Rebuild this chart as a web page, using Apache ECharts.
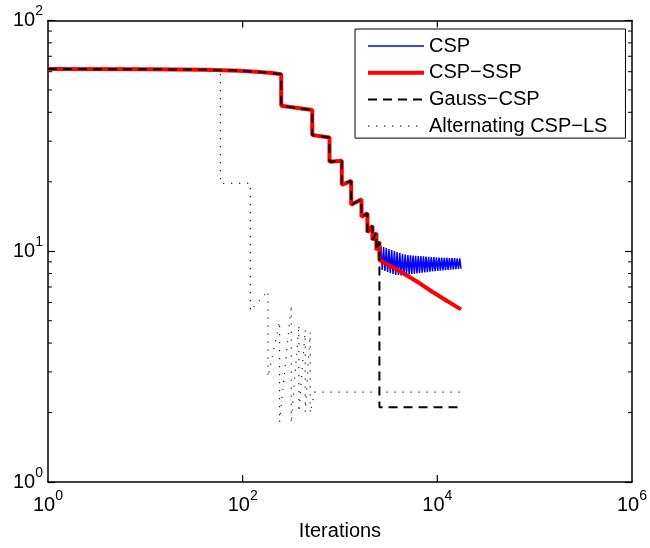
<!DOCTYPE html>
<html><head><meta charset="utf-8">
<script src="https://cdn.jsdelivr.net/npm/echarts@6/dist/echarts.min.js"></script>
<style>html,body{margin:0;padding:0;background:#fff}#c{width:650px;height:548px}</style>
</head><body><div id="c"></div>
<script>
// ---- data ----
const seriesNames = ['CSP', 'CSP\u2212SSP', 'Gauss\u2212CSP', 'Alternating CSP\u2212LS'];
const xMajorTicks = [100, 10000];
const yMinorTicks = [2,3,4,5,6,7,8,9,20,30,40,50,60,70,80,90];

// shared staircase of CSP / CSP-SSP / Gauss-CSP
const mainX = [1, 10, 40, 93, 149, 200, 249, 249, 519, 519, 780, 780, 1043, 1043, 1303, 1303, 1662, 1662, 1914, 1914, 2154, 2154, 2367, 2367, 2541, 2541];
const mainY = [61.6, 61.5, 61.2, 60.6, 59.8, 59.2, 58.5, 42.7, 40.9, 31.9, 31.1, 24.4, 24.7, 19.4, 20.2, 15.9, 16.8, 14.1, 14.6, 12.1, 12.9, 11.2, 12.0, 10.1, 11.0, 9.16];

// CSP tail (oscillating)
const cspX = [2634, 2715, 2807, 2894, 2991, 3085, 3188, 3288, 3399, 3505, 3622, 3735, 3861, 3981, 4115, 4244, 4386, 4523, 4674, 4821, 4983, 5137,
  5298, 5463, 5634, 5808, 5989, 6176, 6370, 6567, 6773, 6984, 7201, 7427, 7657, 7896, 8143, 8396, 8658, 8929, 9207, 9493, 9790, 10095,
  10409, 10735, 11069, 11414, 11770, 12137, 12515, 12906, 13309, 13723, 14152, 14593, 15048, 15517, 16000, 16499, 17013, 17502];
const cspY = [10.54, 8.30, 10.43, 8.21, 10.33, 8.13, 10.23, 8.05, 10.13, 7.97, 10.03, 7.89, 9.93, 7.89, 9.83, 7.85, 9.73, 7.85, 9.68, 7.89, 9.63, 7.93,
  9.60, 7.97, 9.58, 8.00, 9.56, 8.02, 9.54, 8.05, 9.52, 8.07, 9.50, 8.10, 9.48, 8.12, 9.46, 8.15, 9.44, 8.17, 9.43, 8.20, 9.41, 8.22,
  9.40, 8.24, 9.38, 8.26, 9.37, 8.28, 9.36, 8.30, 9.35, 8.32, 9.34, 8.34, 9.33, 8.36, 9.32, 8.38, 9.31, 8.40];

// CSP-SSP tail
const sspX = [3455, 4775, 6535, 8950, 12370, 17500];
const sspY = [8.55, 7.89, 7.28, 6.66, 6.12, 5.6];

// Gauss-CSP tail
const gaussX = [2541, 17500];
const gaussY = [2.107, 2.107];

// Alternating CSP-LS
const altX = [1, 59.1, 59.1, 120, 120, 181.7, 181.7, 239.6, 239.6, 315.9, 315.9, 377.9, 377.9, 439.6, 439.6, 494.9, 494.9, 547.6, 18920];
const altY = [61.6, 60.8, 19.7, 19.7, 5.51, 6.72, 2.85, 4.94, 1.82, 5.85, 1.80, 4.79, 2.01, 4.56, 2.01, 4.47, 1.99, 2.45, 2.45];

// ---- chart ----
const pair = (xs, ys) => xs.map((x, i) => [x, ys[i]]);
const FONT = 'Liberation Sans, Arial, Helvetica, sans-serif';
const supLabel = (v, skipOdd) => {
  const e = Math.round(Math.log10(v));
  if (skipOdd && e % 2 !== 0) return '';
  return '{b|10}{s|' + e + '}';
};
const rich = {
  b: { fontSize: 20, color: '#000', fontFamily: FONT },
  s: { fontSize: 14, color: '#000', fontFamily: FONT, padding: [0, 0, 18, 0] }
};
const axisLine = { show: true, lineStyle: { color: '#000', width: 1.5 } };
const tick = { show: true, inside: true, length: 7, lineStyle: { color: '#000', width: 1.2 } };

const styles = [
  { color: '#0000ff', width: 1.5, type: 'solid' },
  { color: '#ff0000', width: 4, type: 'solid' },
  { color: '#000000', width: 2, type: [9, 6] },
  { color: '#222222', width: 1.2, type: [1.2, 6.8] }
];

const chart = echarts.init(document.getElementById('c'), null, { renderer: 'canvas' });
chart.setOption({
  animation: false,
  backgroundColor: '#fff',
  textStyle: { fontFamily: FONT },
  grid: { left: 48, right: 17, top: 20.5, bottom: 66, containLabel: false },
  legend: {
    orient: 'vertical', left: 355, top: 29,
    data: seriesNames.map((n, i) => ({ name: n, lineStyle: { width: styles[i].width, type: styles[i].type, color: styles[i].color } })),
    itemWidth: 56, itemHeight: 14, itemGap: 6.7,
    padding: [7, 18, 2, 11],
    borderColor: '#000', borderWidth: 1, backgroundColor: '#fff',
    itemStyle: { opacity: 0, color: 'rgba(0,0,0,0)', borderWidth: 0 },
    textStyle: { fontSize: 20, color: '#000', fontFamily: FONT },
    selectedMode: false
  },
  xAxis: [
    { type: 'log', logBase: 10, min: 1, max: 1e6,
      axisLine, axisTick: { show: false }, splitLine: { show: false },
      axisLabel: { formatter: v => supLabel(v, true), rich, margin: 7, color: '#000' },
      name: 'Iterations', nameLocation: 'middle', nameGap: 39,
      nameTextStyle: { fontSize: 20, color: '#000', fontFamily: FONT } },
    { type: 'log', logBase: 10, min: 1, max: 1e6, position: 'top',
      axisLine, axisTick: { show: false }, splitLine: { show: false }, axisLabel: { show: false } }
  ],
  yAxis: [
    { type: 'log', logBase: 10, min: 1, max: 100,
      axisLine, axisTick: tick, splitLine: { show: false },
      axisLabel: { formatter: v => supLabel(v, false), rich, margin: 5, color: '#000' } },
    { type: 'log', logBase: 10, min: 1, max: 100, position: 'right',
      axisLine, axisTick: tick, splitLine: { show: false }, axisLabel: { show: false } }
  ],
  series: seriesNames.map((n, i) => ({
    name: n, type: 'line', symbol: 'none', z: [2, 3, 4, 2][i],
    data: [
      pair(mainX.concat(cspX), mainY.concat(cspY)),
      pair(mainX.concat(sspX), mainY.concat(sspY)),
      pair(mainX.concat(gaussX), mainY.concat(gaussY)),
      pair(altX, altY)
    ][i],
    lineStyle: { color: styles[i].color, width: styles[i].width, type: styles[i].type },
    itemStyle: { color: styles[i].color }
  }))
});

// ticks placed through the axis scales: x majors (every 2 decades), y minors
const xl = chart.convertToPixel({ xAxisIndex: 0 }, 1);
const xr = chart.convertToPixel({ xAxisIndex: 0 }, 1e6);
const yb = chart.convertToPixel({ yAxisIndex: 0 }, 1);
const yt = chart.convertToPixel({ yAxisIndex: 0 }, 100);
const ln = (x1, y1, x2, y2, w) => ({ type: 'line', silent: true, z: 10, shape: { x1, y1, x2, y2 }, style: { stroke: '#000', lineWidth: w } });
const g = [];
yMinorTicks.forEach(v => {
  const y = chart.convertToPixel({ yAxisIndex: 0 }, v);
  g.push(ln(xl, y, xl + 4, y, 1));
  g.push(ln(xr, y, xr - 4, y, 1));
});
xMajorTicks.forEach(v => {
  const x = chart.convertToPixel({ xAxisIndex: 0 }, v);
  g.push(ln(x, yb, x, yb - 7, 1.2));
  g.push(ln(x, yt, x, yt + 7, 1.2));
});
chart.setOption({ graphic: g });
</script>
</body></html>
